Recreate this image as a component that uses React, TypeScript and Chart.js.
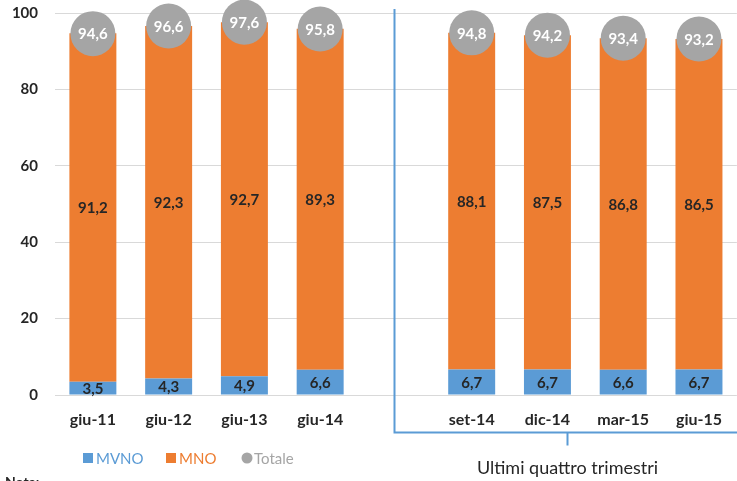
import React, { useEffect, useRef } from "react";
import Chart from "chart.js/auto";

// Quote di mercato (%) — linee mobili
const categories = ["giu-11", "giu-12", "giu-13", "giu-14", "", "set-14", "dic-14", "mar-15", "giu-15"];
const mvno = [3.5, 4.3, 4.9, 6.6, null, 6.7, 6.7, 6.6, 6.7];
const mno = [91.2, 92.3, 92.7, 89.3, null, 88.1, 87.5, 86.8, 86.5];
const totale = [94.6, 96.6, 97.6, 95.8, null, 94.8, 94.2, 93.4, 93.2];
const yTicks = [0, 20, 40, 60, 80, 100];

const BLUE = "#5B9BD5";
const ORANGE = "#ED7D31";
const GREY = "#A5A5A5";
const TEXT = "#262626";
const FONT = "Lato, 'Open Sans', sans-serif";

const fmt = (v: number) => v.toFixed(1).replace(".", ",");

const labelsPlugin = {
  id: "valueLabels",
  afterDatasetsDraw(chart: any) {
    const ctx = chart.ctx;
    ctx.save();
    ctx.textAlign = "center";
    ctx.textBaseline = "middle";
    // stacked bar values, centred in each segment
    [0, 1].forEach((di) => {
      const meta = chart.getDatasetMeta(di);
      const data = chart.data.datasets[di].data;
      meta.data.forEach((el: any, i: number) => {
        const v = data[i];
        if (v == null) return;
        ctx.font = `bold 15px ${FONT}`;
        ctx.fillStyle = TEXT;
        ctx.fillText(fmt(v), el.x, (el.y + el.base) / 2 + 1);
      });
    });
    // totals inside the grey markers
    const tMeta = chart.getDatasetMeta(2);
    tMeta.data.forEach((el: any, i: number) => {
      const v = totale[i];
      if (v == null) return;
      ctx.font = `bold 15px ${FONT}`;
      ctx.fillStyle = "#FFFFFF";
      ctx.fillText(fmt(v), el.x, el.y + 1);
    });
    ctx.restore();
  },
  afterDraw(chart: any) {
    const ctx = chart.ctx;
    const x = chart.scales.x;
    const area = chart.chartArea;
    const W = chart.width;
    ctx.save();
    // bracket grouping the last four quarters
    const bx = Math.round(x.getPixelForValue(4)) - 1.5;
    const by = area.bottom + 37.5;
    const midX = Math.round((bx + W + 2) / 2) + 0.5;
    ctx.strokeStyle = BLUE;
    ctx.lineWidth = 2;
    ctx.beginPath();
    ctx.moveTo(bx, area.top - 4);
    ctx.lineTo(bx, by);
    ctx.lineTo(W + 2, by);
    ctx.moveTo(midX, by);
    ctx.lineTo(midX, by + 13);
    ctx.stroke();

    ctx.fillStyle = TEXT;
    ctx.font = `18px ${FONT}`;
    ctx.textAlign = "center";
    ctx.textBaseline = "middle";
    ctx.fillText("Ultimi quattro trimestri", midX, 468);

    // legend
    ctx.textAlign = "left";
    ctx.font = `15px ${FONT}`;
    ctx.fillStyle = BLUE;
    ctx.fillRect(83, 453, 10, 10);
    ctx.fillText("MVNO", 96, 459);
    ctx.fillStyle = ORANGE;
    ctx.fillRect(166, 453, 10, 10);
    ctx.fillText("MNO", 179, 459);
    ctx.fillStyle = GREY;
    ctx.beginPath();
    ctx.arc(247, 458, 5.5, 0, Math.PI * 2);
    ctx.fill();
    ctx.fillText("Totale", 254, 459);

    ctx.fillStyle = TEXT;
    ctx.font = `bold 14px ${FONT}`;
    ctx.textBaseline = "top";
    ctx.fillText("Nota:", 5, 475);
    ctx.restore();
  },
};

export default function App() {
  const ref = useRef<HTMLCanvasElement | null>(null);

  useEffect(() => {
    if (!ref.current) return;
    const chart = new Chart(ref.current, {
      type: "bar",
      data: {
        labels: categories,
        datasets: [
          {
            label: "MVNO",
            data: mvno,
            backgroundColor: BLUE,
            categoryPercentage: 1,
            barPercentage: 0.62,
            order: 1,
          },
          {
            label: "MNO",
            data: mno,
            backgroundColor: ORANGE,
            categoryPercentage: 1,
            barPercentage: 0.62,
            order: 1,
          },
          {
            type: "line",
            label: "Totale",
            data: totale,
            showLine: false,
            pointRadius: 22.5,
            pointHoverRadius: 22.5,
            pointBackgroundColor: GREY,
            pointBorderWidth: 0,
            borderColor: GREY,
            clip: false,
            order: -1,
          } as any,
        ],
      },
      options: {
        animation: false,
        responsive: false,
        layout: { autoPadding: false, padding: { top: 13, left: 10, right: 0, bottom: 0 } },
        plugins: {
          legend: { display: false },
          tooltip: { enabled: false },
        },
        scales: {
          x: {
            stacked: true,
            grid: { display: false, drawTicks: false },
            border: { display: false },
            ticks: {
              color: TEXT,
              font: { family: FONT, size: 16, weight: "bold" },
              padding: 15,
              autoSkip: false,
              maxRotation: 0,
            },
            afterFit: (s: any) => {
              s.height = 86;
            },
          },
          y: {
            stacked: true,
            min: 0,
            max: 100,
            afterBuildTicks: (s: any) => {
              s.ticks = yTicks.map((v) => ({ value: v }));
            },
            grid: {
              color: "#D9D9D9",
              lineWidth: 1,
              drawTicks: true,
              tickLength: 17,
              tickColor: "rgba(0,0,0,0)",
            },
            border: { display: false },
            ticks: {
              color: TEXT,
              font: { family: FONT, size: 15, weight: "bold" },
              padding: 0,
            },
            afterFit: (s: any) => {
              s.width = 45;
            },
          },
        },
      },
      plugins: [labelsPlugin],
    });
    return () => chart.destroy();
  }, []);

  return (
    <div style={{ position: "absolute", left: 0, top: 0, width: 737, height: 481, background: "#fff" }}>
      <canvas ref={ref} width={737} height={481} />
    </div>
  );
}
